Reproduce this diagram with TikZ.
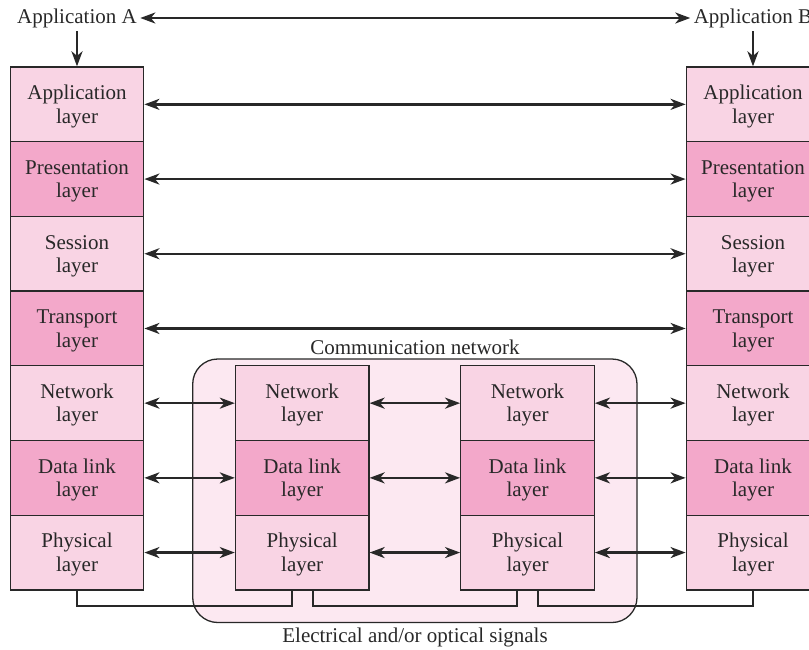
\documentclass[tikz,border=0pt]{standalone}
\usepackage{fontspec}
\setmainfont{Liberation Serif}
\usetikzlibrary{arrows.meta}

\definecolor{lightpink}{RGB}{249,212,228}
\definecolor{darkpink}{RGB}{243,168,202}
\definecolor{netbg}{RGB}{252,232,241}
\definecolor{ink}{RGB}{40,40,40}

% two-line layer caption; the box extents place the second baseline
% 18.8pt below the node centre
\newcommand\lyr[2]{\raisebox{0pt}[37.6pt][0pt]{%
  \begin{tabular}[b]{@{}c@{}}#1\\#2\end{tabular}}}

\tikzset{
  layerbox/.style={draw=ink, line width=1.3pt, minimum width=133.5pt,
    minimum height=74.7pt, inner sep=0pt,
    font=\fontsize{21}{23.5}\selectfont, text=ink},
  light/.style={layerbox, fill=lightpink},
  dark/.style={layerbox, fill=darkpink},
  label/.style={font=\fontsize{21}{23.5}\selectfont, text=ink},
  arr/.style={{Stealth[length=15pt,width=11pt,inset=4.5pt]}-{Stealth[length=15pt,width=11pt,inset=4.5pt]},
    line width=2.4pt, draw=ink},
  down/.style={-{Stealth[length=15pt,width=11pt,inset=4.5pt]}, line width=2.4pt, draw=ink},
  wire/.style={line width=2pt, draw=ink}
}

\begin{document}
\begin{tikzpicture}[x=1pt,y=-1pt]
\useasboundingbox (0,0) rectangle (809,649);
\clip (0,0) rectangle (809,649);

% communication network enclosure
\draw[draw=ink, line width=1.3pt, fill=netbg, rounded corners=25pt]
  (192.7,359) rectangle (637,622.5);
\node[label] (cnet) at (415,347.5) {Communication network};
\node[label] (sig) at (415,637.5) {Electrical and/or optical signals};

% end-system stacks
\node[light] (L1) at (77,104.35)  {\lyr{Application}{layer}};
\node[dark]  (L2) at (77,179.05)  {\lyr{Presentation}{layer}};
\node[light] (L3) at (77,253.75)  {\lyr{Session}{layer}};
\node[dark]  (L4) at (77,328.45)  {\lyr{Transport}{layer}};
\node[light] (L5) at (77,403.15)  {\lyr{Network}{layer}};
\node[dark]  (L6) at (77,477.85)  {\lyr{Data link}{layer}};
\node[light] (L7) at (77,552.55)  {\lyr{Physical}{layer}};

\node[light] (R1) at (753,104.35) {\lyr{Application}{layer}};
\node[dark]  (R2) at (753,179.05) {\lyr{Presentation}{layer}};
\node[light] (R3) at (753,253.75) {\lyr{Session}{layer}};
\node[dark]  (R4) at (753,328.45) {\lyr{Transport}{layer}};
\node[light] (R5) at (753,403.15) {\lyr{Network}{layer}};
\node[dark]  (R6) at (753,477.85) {\lyr{Data link}{layer}};
\node[light] (R7) at (753,552.55) {\lyr{Physical}{layer}};

% intermediate nodes inside the network
\node[light] (P5) at (302.2,403.15) {\lyr{Network}{layer}};
\node[dark]  (P6) at (302.2,477.85) {\lyr{Data link}{layer}};
\node[light] (P7) at (302.2,552.55) {\lyr{Physical}{layer}};

\node[light] (Q5) at (527.5,403.15) {\lyr{Network}{layer}};
\node[dark]  (Q6) at (527.5,477.85) {\lyr{Data link}{layer}};
\node[light] (Q7) at (527.5,552.55) {\lyr{Physical}{layer}};

% applications
\node[label] (appA) at (77,18)  {Application A};
\node[label] (appB) at (753,18) {Application B};
\draw[arr] (appA.east) -- (appB.west);
\draw[down] (appA.south) -- (L1.north);
\draw[down] (appB.south) -- (R1.north);

% peer-to-peer links
\draw[arr] (L1.east) -- (R1.west);
\draw[arr] (L2.east) -- (R2.west);
\draw[arr] (L3.east) -- (R3.west);
\draw[arr] (L4.east) -- (R4.west);
\foreach \k in {5,6,7}{
  \draw[arr] (L\k.east) -- (P\k.west);
  \draw[arr] (P\k.east) -- (Q\k.west);
  \draw[arr] (Q\k.east) -- (R\k.west);
}

% physical media
\draw[wire] (L7.south) |- (291.7,606) -- ([xshift=-10.5pt]P7.south);
\draw[wire] ([xshift=10.5pt]P7.south) |- (516.7,606) -- ([xshift=-10.8pt]Q7.south);
\draw[wire] ([xshift=10.8pt]Q7.south) |- (753,606) -- (R7.south);
\end{tikzpicture}
\end{document}
